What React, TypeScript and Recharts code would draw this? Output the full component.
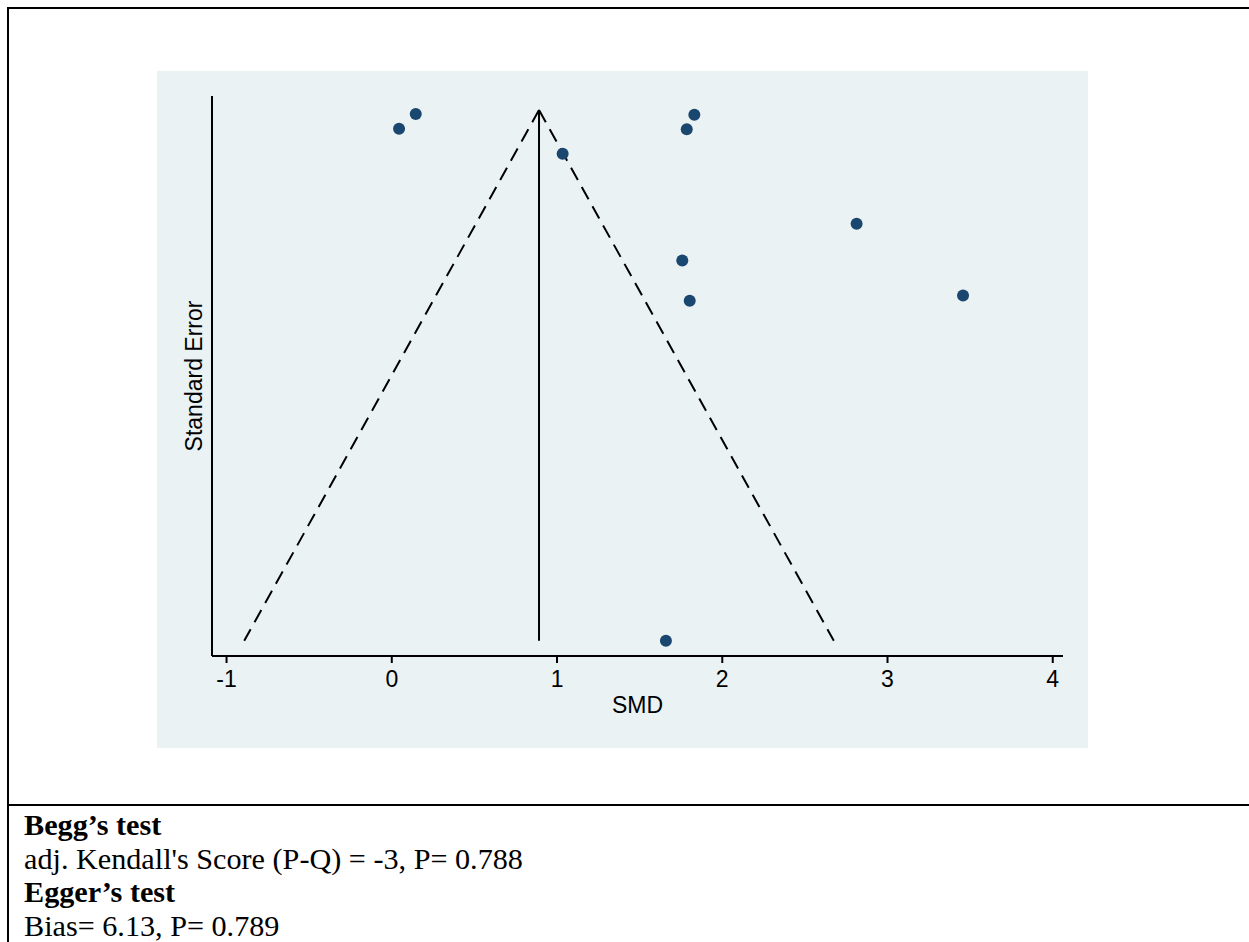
import React from 'react';
import { ScatterChart, Scatter, XAxis, YAxis, ReferenceLine } from 'recharts';

// Study effects (SMD) and standard errors
const smdValues = [0.145, 0.044, 1.831, 1.785, 1.034, 2.813, 1.758, 1.803, 3.457, 1.659];
const seValues = [0.007, 0.032, 0.008, 0.033, 0.075, 0.195, 0.258, 0.327, 0.318, 0.91];
const xTicks = [-1, 0, 1, 2, 3, 4];
const pooledSMD = 0.891;
const seMax = 0.91;
const funnelLeft = -0.893;
const funnelRight = 2.675;

const textLines = [
  { text: "Begg\u2019s test", bold: true },
  { text: "adj. Kendall's Score (P-Q) = -3, P= 0.788", bold: false },
  { text: "Egger\u2019s test", bold: true },
  { text: "Bias= 6.13, P= 0.789", bold: false },
];

const points = smdValues.map((x, i) => ({ x, y: seValues[i] }));

const SANS = "'Liberation Sans', Arial, Helvetica, sans-serif";

const Dot = (props: any) => (
  <circle cx={props.cx} cy={props.cy} r={6} fill="#1a476f" />
);

const YLabel = (props: any) => {
  const vb = props.viewBox || {};
  const x = vb.x + vb.width - 18;
  const y = vb.y + vb.height / 2;
  return (
    <text
      x={x}
      y={y}
      textAnchor="middle"
      dominantBaseline="central"
      transform={`rotate(-90, ${x}, ${y})`}
      fontFamily={SANS}
      fontSize={23}
      fill="#000"
    >
      Standard Error
    </text>
  );
};

export default function App() {
  return (
    <div
      style={{
        position: 'fixed',
        top: 7,
        left: 7,
        width: 1242,
        height: 935,
        borderTop: '2px solid #000',
        borderLeft: '2px solid #000',
        boxSizing: 'border-box',
        overflow: 'hidden',
        background: '#fff',
      }}
    >
      <div
        style={{
          position: 'absolute',
          left: 148,
          top: 62,
          width: 931,
          height: 677,
          background: '#EAF2F3',
        }}
      >
        <ScatterChart
          width={931}
          height={677}
          margin={{ top: 25, right: 25, bottom: 32, left: 0 }}
        >
          <XAxis
            type="number"
            dataKey="x"
            domain={[-1.088, 4.062]}
            ticks={xTicks}
            allowDataOverflow
            height={60}
            tickSize={7}
            tickMargin={8}
            axisLine={{ stroke: '#000', strokeWidth: 2 }}
            tickLine={{ stroke: '#000', strokeWidth: 2 }}
            tick={{ fill: '#000', fontSize: 23, fontFamily: SANS }}
            label={{
              value: 'SMD',
              position: 'insideBottom',
              offset: 3,
              fill: '#000',
              fontSize: 23,
              fontFamily: SANS,
            }}
          />
          <YAxis
            type="number"
            dataKey="y"
            reversed
            domain={[-0.024, 0.936]}
            allowDataOverflow
            width={55}
            tick={false}
            tickLine={false}
            axisLine={{ stroke: '#000', strokeWidth: 2 }}
            label={<YLabel />}
          />
          <ReferenceLine
            segment={[{ x: pooledSMD, y: 0 }, { x: pooledSMD, y: seMax }]}
            stroke="#000"
            strokeWidth={2}
          />
          <ReferenceLine
            segment={[{ x: pooledSMD, y: 0 }, { x: funnelLeft, y: seMax }]}
            stroke="#000"
            strokeWidth={2}
            strokeDasharray="14 8"
          />
          <ReferenceLine
            segment={[{ x: pooledSMD, y: 0 }, { x: funnelRight, y: seMax }]}
            stroke="#000"
            strokeWidth={2}
            strokeDasharray="14 8"
          />
          <Scatter data={points} shape={<Dot />} isAnimationActive={false} />
        </ScatterChart>
      </div>
      <div
        style={{
          position: 'absolute',
          left: 0,
          top: 795,
          width: '100%',
          height: 2,
          background: '#000',
        }}
      />
      <div
        style={{
          position: 'absolute',
          left: 15,
          top: 800,
          fontFamily: "'Liberation Serif', 'Times New Roman', serif",
          fontSize: 30.2,
          lineHeight: '33.5px',
          color: '#000',
        }}
      >
        {textLines.map((l, i) => (
          <div key={i} style={{ fontWeight: l.bold ? 'bold' : 'normal', whiteSpace: 'nowrap' }}>
            {l.text}
          </div>
        ))}
      </div>
    </div>
  );
}
